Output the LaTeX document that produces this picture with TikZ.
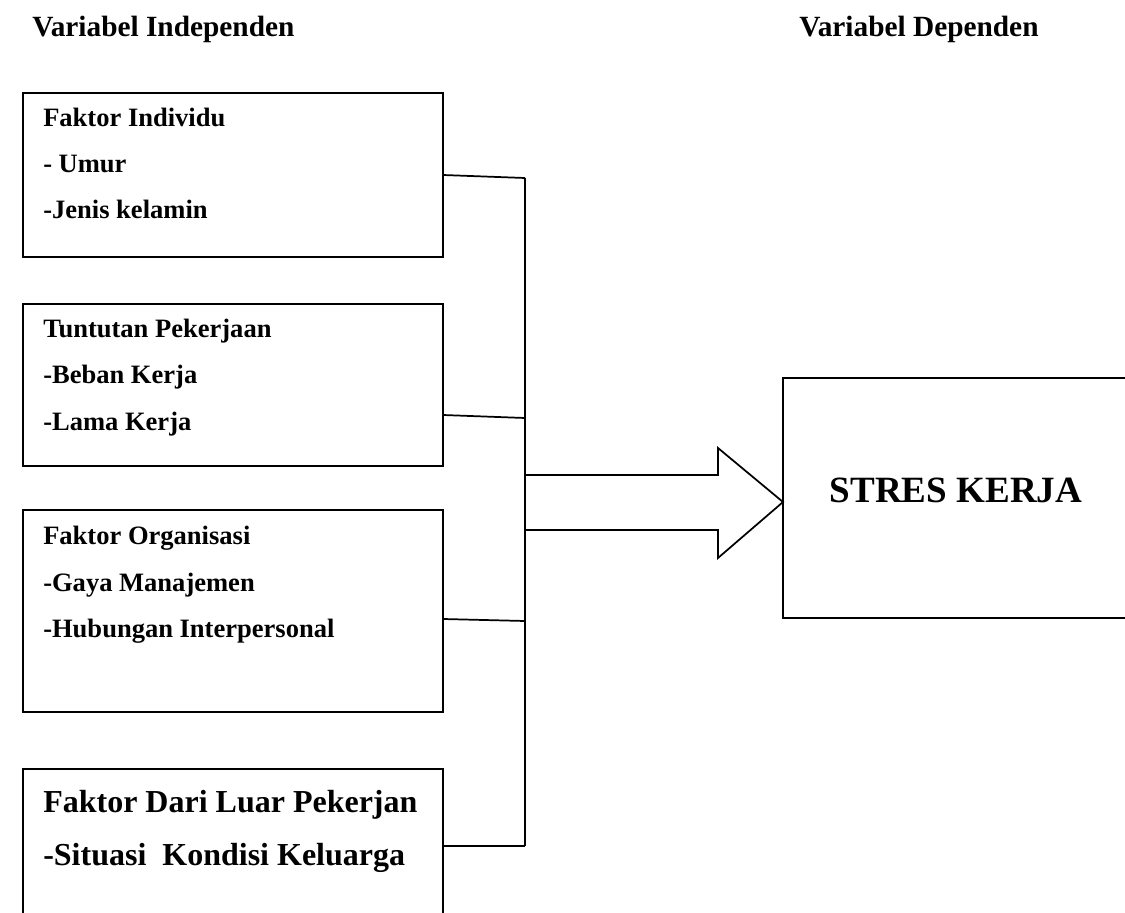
\documentclass[tikz,border=0pt]{standalone}
\usepackage{fontspec}
\setmainfont{Liberation Serif}
\begin{document}
\begin{tikzpicture}[x=0.75pt,y=-0.75pt,
  line/.style={line width=1.3pt},
  box/.style={draw, line width=1.3pt, rectangle, inner sep=0pt, minimum width=315pt},
  txt/.style={anchor=base west, inner sep=0pt, font=\fontsize{19.9}{24}\selectfont\bfseries},
  bigtxt/.style={anchor=base west, inner sep=0pt, font=\fontsize{24}{29}\selectfont\bfseries},
  head/.style={anchor=base west, inner sep=0pt, font=\fontsize{22}{26}\selectfont\bfseries},
  stres/.style={anchor=base, inner sep=0pt, font=\fontsize{27.8}{33}\selectfont\bfseries}]
\useasboundingbox (0,0) rectangle (1125,913);
\clip (0,0) rectangle (1125,913);
% headings
\node[head] (h1) at (32,37) {Variabel Independen};
\node[head] (h2) at (799,37) {Variabel Dependen};
% boxes
\node[box, minimum height=123pt] (b1) at (233,175) {};
\node[box, minimum height=121.5pt] (b2) at (233,385) {};
\node[box, minimum height=151.5pt] (b3) at (233,611) {};
\node[box, minimum height=120.75pt] (b4) at (233,849.5) {};
\node[box, minimum width=264pt, minimum height=180pt] (rb) at (959,498) {};
% texts
\node[txt] (t11) at (43,127) {Faktor Individu};
\node[txt] (t12) at (43,173) {- Umur};
\node[txt] (t13) at (43,219) {-Jenis kelamin};
\node[txt] (t21) at (43,337) {Tuntutan Pekerjaan};
\node[txt] (t22) at (43,383) {-Beban Kerja};
\node[txt] (t23) at (43,430) {-Lama Kerja};
\node[txt] (t31) at (43,544) {Faktor Organisasi};
\node[txt] (t32) at (43,591) {-Gaya Manajemen};
\node[txt] (t33) at (43,637) {-Hubungan Interpersonal};
\node[bigtxt] (t41) at (43,812) {Faktor Dari Luar Pekerjan};
\node[bigtxt] (t42) at (43,865) {-Situasi\ \ Kondisi Keluarga};
\node[stres] (st) at (956,502) {STRES KERJA};
% connector points
\coordinate (s1) at (443,175);
\coordinate (s2) at (443,415);
\coordinate (s3) at (443,619);
\coordinate (s4) at (443,846);
\coordinate (j1) at (525,178);
\coordinate (j2) at (525,418);
\coordinate (j3) at (525,621);
\coordinate (j4) at (525,846);
\draw[line] (s1) -- (j1);
\draw[line] (s2) -- (j2);
\draw[line] (s3) -- (j3);
\draw[line] (s4) -- (j4);
\draw[line] (j1) -- (j4);
% block arrow
\coordinate (a1) at (525,475);
\coordinate (a2) at (718,475);
\coordinate (a3) at (718,448);
\coordinate (tip) at (783,502);
\coordinate (a5) at (718,558);
\coordinate (a6) at (718,530);
\coordinate (a7) at (525,530);
\draw[line, line join=miter] (a1) -- (a2) -- (a3) -- (tip) -- (a5) -- (a6) -- (a7);
\end{tikzpicture}
\end{document}
